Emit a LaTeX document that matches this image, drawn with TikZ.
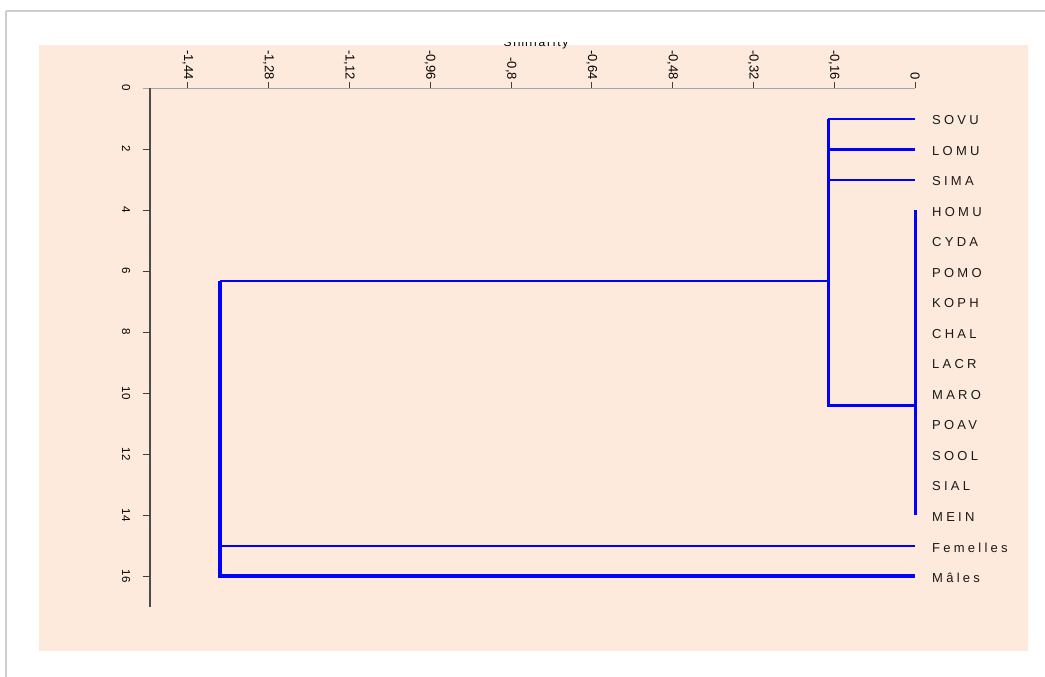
\documentclass[tikz,border=0pt]{standalone}
\usepackage{fontspec}
\setmainfont{Liberation Sans}
\newfontfamily\leaffont[LetterSpace=25]{Liberation Sans}
\newfontfamily\titlefont[LetterSpace=15]{Liberation Sans}
\usetikzlibrary{positioning}

\definecolor{plotbg}{RGB}{253,234,220}
\definecolor{framegrey}{RGB}{205,205,205}
\definecolor{branchblue}{RGB}{0,0,255}

\tikzset{
  leaf/.style={anchor=west, inner sep=0pt, yshift=-2pt, text=black!90, font=\leaffont\fontsize{13}{15}\selectfont},
  toplab/.style={anchor=east, rotate=-90, inner sep=0pt, font=\fontsize{13}{15}\selectfont},
  sidelab/.style={rotate=-90, inner sep=0pt, font=\fontsize{11.5}{13}\selectfont},
  branch/.style={draw=branchblue, line width=2pt},
  thinbranch/.style={draw=branchblue, line width=1.6pt},
  fatbranch/.style={draw=branchblue, line width=3pt},
  heavybranch/.style={draw=branchblue, line width=4pt},
}

\begin{document}
\begin{tikzpicture}[x=1pt,y=-1pt]
  \useasboundingbox (0,0) rectangle (1045,677);
  % Window and plot area
  \fill[white] (0,0) rectangle (1045,677);
  \draw[framegrey, line width=2.5pt] (6,11) -- (1045,11);
  \draw[framegrey, line width=2pt] (6,11) -- (6,677);
  \fill[plotbg] (39,45) rectangle (1028,651);
  % Axis title, cut at the top
  \begin{scope}
    \clip (400,43) rectangle (700,60);
    \node[font=\titlefont\fontsize{12}{14}\selectfont] (title) at (536,43) {Similarity};
  \end{scope}

  \begin{scope}[shift={(915pt,-88pt)}, x=505pt, y=-30.5pt]
    % Axes
    \draw[black!35, line width=0.8pt] (-1.529,0) -- (0,0);
    \draw[black!70, line width=1.5pt] (-1.515,0) -- (-1.515,17.02);
    \draw[black!75, line width=1pt] (-1.44,0) -- (-1.44,-0.2) (-1.28,0) -- (-1.28,-0.2)
      (-1.12,0) -- (-1.12,-0.2) (-0.96,0) -- (-0.96,-0.2) (-0.8,0) -- (-0.8,-0.2)
      (-0.64,0) -- (-0.64,-0.2) (-0.48,0) -- (-0.48,-0.2) (-0.32,0) -- (-0.32,-0.2)
      (-0.16,0) -- (-0.16,-0.2) (0,0) -- (0,-0.2);
    \draw[black!75, line width=1pt] (-1.529,2) -- (-1.515,2) (-1.529,4) -- (-1.515,4)
      (-1.529,6) -- (-1.515,6) (-1.529,8) -- (-1.515,8) (-1.529,10) -- (-1.515,10)
      (-1.529,12) -- (-1.515,12) (-1.529,14) -- (-1.515,14) (-1.529,16) -- (-1.515,16);

    % Similarity labels
    \node[toplab] (s144) at (-1.44,-0.26) {-1,44};
    \node[toplab] (s128) at (-1.28,-0.26) {-1,28};
    \node[toplab] (s112) at (-1.12,-0.26) {-1,12};
    \node[toplab] (s096) at (-0.96,-0.26) {-0,96};
    \node[toplab] (s080) at (-0.8,-0.26) {-0,8};
    \node[toplab] (s064) at (-0.64,-0.26) {-0,64};
    \node[toplab] (s048) at (-0.48,-0.26) {-0,48};
    \node[toplab] (s032) at (-0.32,-0.26) {-0,32};
    \node[toplab] (s016) at (-0.16,-0.26) {-0,16};
    \node[toplab] (s000) at (0,-0.26) {0};

    % Row labels
    \node[sidelab] (r0) at (-1.562,0) {0};
    \node[sidelab] (r2) at (-1.562,2) {2};
    \node[sidelab] (r4) at (-1.562,4) {4};
    \node[sidelab] (r6) at (-1.562,6) {6};
    \node[sidelab] (r8) at (-1.562,8) {8};
    \node[sidelab] (r10) at (-1.562,10) {10};
    \node[sidelab] (r12) at (-1.562,12) {12};
    \node[sidelab] (r14) at (-1.562,14) {14};
    \node[sidelab] (r16) at (-1.562,16) {16};

    % Leaves
    \coordinate (sovu) at (0,1);
    \coordinate (lomu) at (0,2);
    \coordinate (sima) at (0,3);
    \coordinate (homu) at (0,4);
    \coordinate (cyda) at (0,5);
    \coordinate (pomo) at (0,6);
    \coordinate (koph) at (0,7);
    \coordinate (chal) at (0,8);
    \coordinate (lacr) at (0,9);
    \coordinate (maro) at (0,10);
    \coordinate (poav) at (0,11);
    \coordinate (sool) at (0,12);
    \coordinate (sial) at (0,13);
    \coordinate (mein) at (0,14);
    \coordinate (fem) at (0,15.02);
    \coordinate (males) at (0,16);

    \node[leaf, right=17pt of sovu] (sovu-lab) {SOVU};
    \node[leaf, right=17pt of lomu] (lomu-lab) {LOMU};
    \node[leaf, right=17pt of sima] (sima-lab) {SIMA};
    \node[leaf, right=17pt of homu] (homu-lab) {HOMU};
    \node[leaf, right=17pt of cyda] (cyda-lab) {CYDA};
    \node[leaf, right=17pt of pomo] (pomo-lab) {POMO};
    \node[leaf, right=17pt of koph] (koph-lab) {KOPH};
    \node[leaf, right=17pt of chal] (chal-lab) {CHAL};
    \node[leaf, right=17pt of lacr] (lacr-lab) {LACR};
    \node[leaf, right=17pt of maro] (maro-lab) {MARO};
    \node[leaf, right=17pt of poav] (poav-lab) {POAV};
    \node[leaf, right=17pt of sool] (sool-lab) {SOOL};
    \node[leaf, right=17pt of sial] (sial-lab) {SIAL};
    \node[leaf, right=17pt of mein] (mein-lab) {MEIN};
    \node[leaf, right=17pt of fem] (fem-lab) {Femelles};
    \node[leaf, right=17pt of males] (males-lab) {Mâles};

    % Joins
    \coordinate (upper) at (-0.172,6.33);
    \coordinate (mid) at (0,10.4);
    \coordinate (root) at (-1.376,6.33);

    % Upper cluster
    \draw[branch] (sovu) -- (upper |- sovu);
    \draw[fatbranch] (lomu) -- (upper |- lomu);
    \draw[branch] (sima) -- (upper |- sima);
    \draw[fatbranch] (upper |- sovu) -- (upper |- mid) -- (mid);
    \draw[fatbranch] (homu) -- (mein);

    % Root
    \draw[thinbranch] (upper) -- (root);
    \draw[thinbranch] (fem) -- (root |- fem);
    \draw[heavybranch] (root) -- (root |- males) -- (males);
  \end{scope}
\end{tikzpicture}
\end{document}
